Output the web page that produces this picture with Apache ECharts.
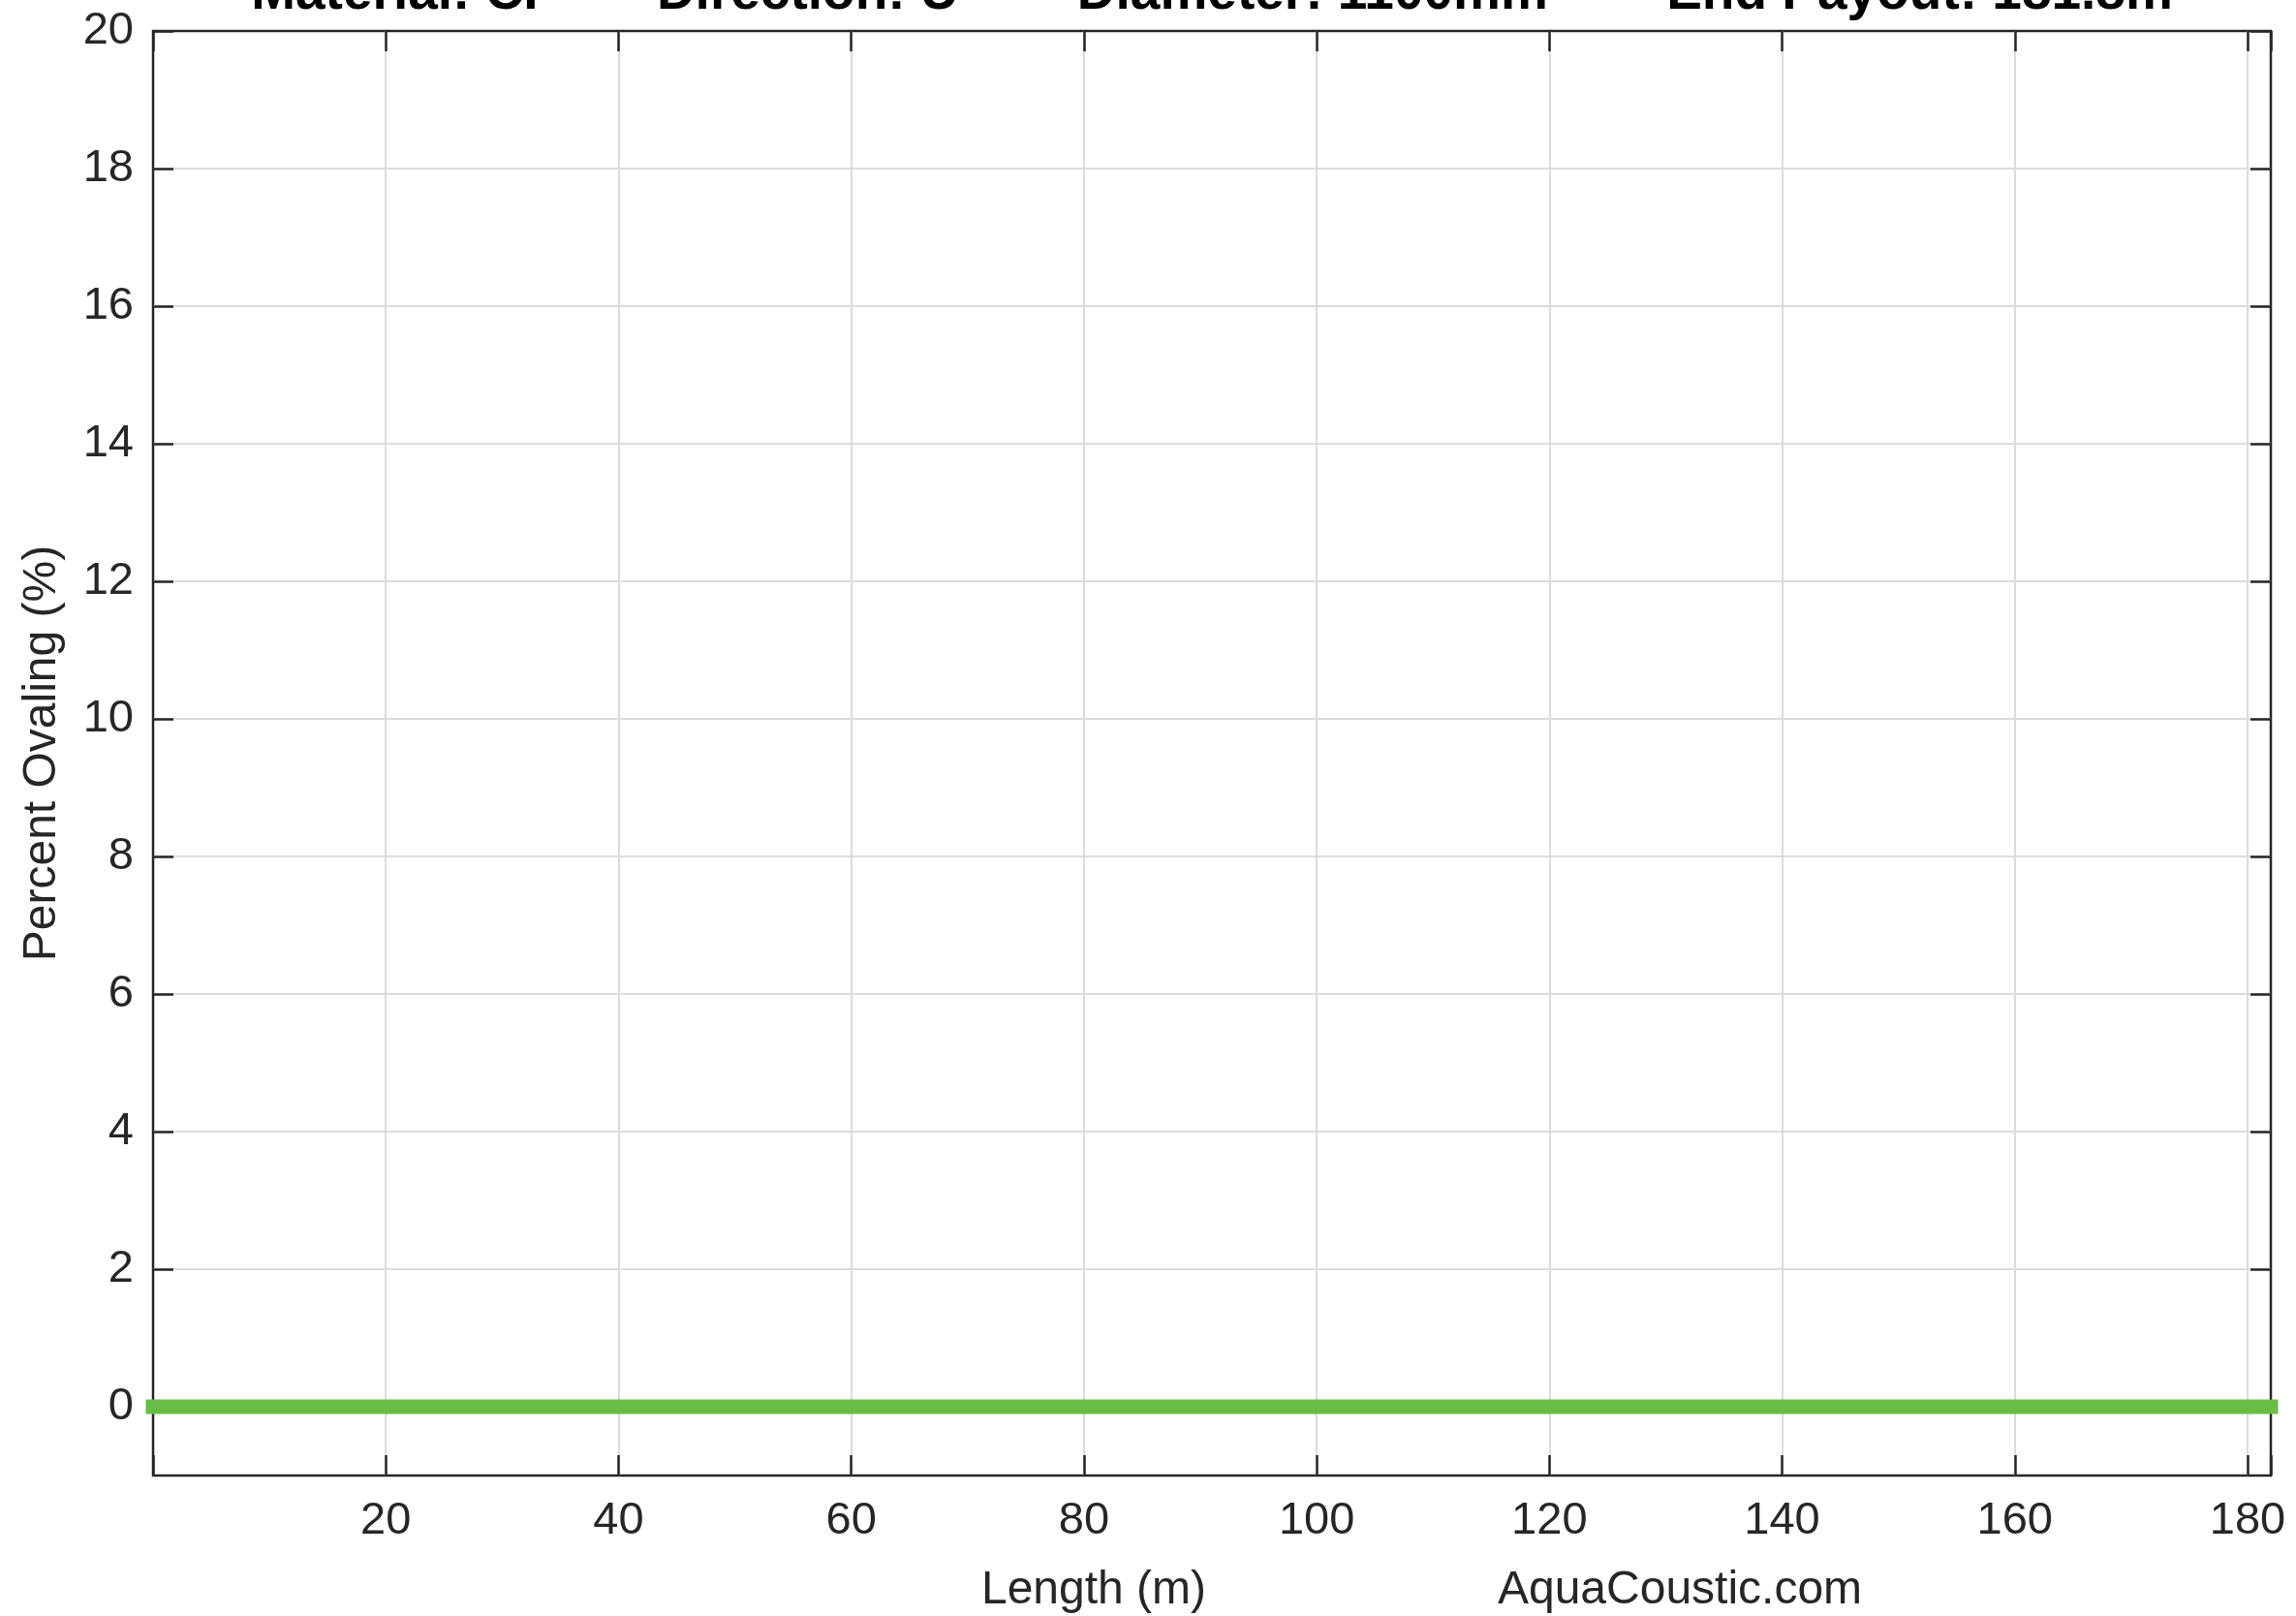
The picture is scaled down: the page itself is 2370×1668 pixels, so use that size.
<!DOCTYPE html>
<html>
<head>
<meta charset="utf-8">
<script src="https://cdn.jsdelivr.net/npm/echarts@6/dist/echarts.min.js"></script>
<style>
html,body{margin:0;padding:0;background:#fff;}
#chart{width:2370px;height:1668px;}
</style>
</head>
<body>
<div id="chart"></div>
<script>
// ---- data ----
const lengthM = [0, 182];
const ovalingPct = [0, 0];
const xTickLabels = [20, 40, 60, 80, 100, 120, 140, 160, 180];
const yTickLabels = [0, 2, 4, 6, 8, 10, 12, 14, 16, 18, 20];
const xRange = [0, 182];
const yRange = [-1, 20];
const titleText = 'Material: CI        Direction: U        Diameter: 1100mm        End Payout: 181.8m';
const xAxisName = 'Length (m)';
const yAxisName = 'Percent Ovaling (%)';
const watermark = 'AquaCoustic.com';

// ---- layout ----
const PL = 158, PT = 32, PW = 2186, PH = 1491;
const FONT = 'Liberation Sans, Arial, Helvetica, sans-serif';
const INK = '#262626';
const GRIDC = '#dcdcdc';
const tickLen = 21;
const upperH = PH * (yRange[1] - 0) / (yRange[1] - yRange[0]);

const chart = echarts.init(document.getElementById('chart'), null, {renderer: 'canvas'});
const seriesData = lengthM.map((x, i) => [x, ovalingPct[i]]);

chart.setOption({
  backgroundColor: '#ffffff',
  animation: false,
  grid: [
    {left: PL, top: PT, width: PW, height: PH, show: true, borderColor: INK, borderWidth: 2.5, backgroundColor: 'transparent'},
    {left: PL, top: PT, width: PW, height: upperH, show: false}
  ],
  xAxis: [
    {
      gridIndex: 0, type: 'value', min: xRange[0], max: xRange[1], interval: 20, position: 'bottom',
      axisLine: {show: false, onZero: false},
      axisTick: {show: true, inside: true, length: tickLen, lineStyle: {color: INK, width: 2.5}},
      axisLabel: {
        show: true, margin: 24, color: INK, fontFamily: FONT, fontSize: 47,
        showMinLabel: true, showMaxLabel: true,
        formatter: v => xTickLabels.includes(v) ? String(v) : ''
      },
      splitLine: {show: true, showMinLine: false, showMaxLine: false, lineStyle: {color: GRIDC, width: 2}}
    },
    {
      gridIndex: 1, type: 'value', min: xRange[0], max: xRange[1], interval: 20, position: 'top',
      axisLine: {show: false, onZero: false},
      axisTick: {show: true, inside: true, length: tickLen, lineStyle: {color: INK, width: 2.5}},
      axisLabel: {show: false},
      splitLine: {show: false}
    }
  ],
  yAxis: [
    {
      gridIndex: 0, type: 'value', min: yRange[0], max: yRange[1], position: 'left',
      axisLine: {show: false, onZero: false}, axisTick: {show: false}, axisLabel: {show: false}, splitLine: {show: false},
      name: yAxisName, nameLocation: 'middle', nameGap: 90,
      nameTextStyle: {color: INK, fontFamily: FONT, fontSize: 48}
    },
    {
      gridIndex: 1, type: 'value', min: yTickLabels[0], max: yTickLabels[yTickLabels.length - 1], interval: 2, position: 'left',
      axisLine: {show: false, onZero: false},
      axisTick: {show: true, inside: true, length: tickLen, lineStyle: {color: INK, width: 2.5}},
      axisLabel: {show: true, margin: 20, color: INK, fontFamily: FONT, fontSize: 47,
        formatter: v => yTickLabels.includes(v) ? String(v) : ''},
      splitLine: {show: true, showMinLine: true, showMaxLine: false, lineStyle: {color: GRIDC, width: 2}}
    },
    {
      gridIndex: 1, type: 'value', min: yTickLabels[0], max: yTickLabels[yTickLabels.length - 1], interval: 2, position: 'right',
      axisLine: {show: false, onZero: false},
      axisTick: {show: true, inside: true, length: tickLen, lineStyle: {color: INK, width: 2.5}},
      axisLabel: {show: false},
      splitLine: {show: false}
    }
  ],
  graphic: [
    {type: 'text', x: PL + PW / 2, y: -6, z: 10,
     style: {text: titleText, font: 'bold 55px ' + FONT, fill: '#000000', textAlign: 'center', textVerticalAlign: 'middle', align: 'center', verticalAlign: 'middle'}},
    {type: 'text', x: 1129, y: 1642, z: 10,
     style: {text: xAxisName, font: '48px ' + FONT, fill: INK, textAlign: 'center', textVerticalAlign: 'middle', align: 'center', verticalAlign: 'middle'}},
    {type: 'text', x: 1734, y: 1642, z: 10,
     style: {text: watermark, font: '48px ' + FONT, fill: INK, textAlign: 'center', textVerticalAlign: 'middle', align: 'center', verticalAlign: 'middle'}}
  ],
  series: [
    {
      type: 'line', xAxisIndex: 0, yAxisIndex: 0, data: seriesData,
      showSymbol: false, symbol: 'none', clip: false, z: 5,
      lineStyle: {color: '#69bd45', width: 15, cap: 'square'}
    }
  ]
});
</script>
</body>
</html>
